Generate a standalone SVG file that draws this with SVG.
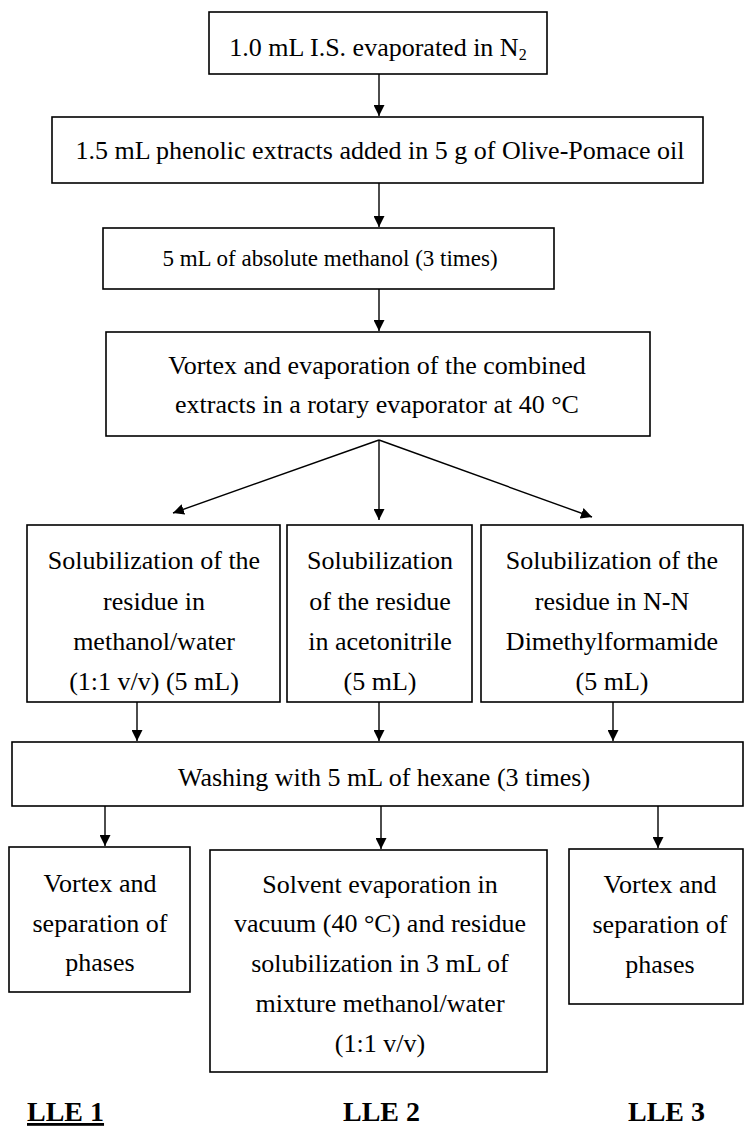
<svg xmlns="http://www.w3.org/2000/svg" width="744" height="1128" viewBox="0 0 744 1128">
<defs>
<style>
.box{fill:#fff;stroke:#000;stroke-width:1.6}
.t{font-family:"Liberation Serif","Times New Roman",serif;font-size:26px;fill:#000;text-anchor:middle}
.t23{font-size:23px}
.lab{font-family:"Liberation Serif","Times New Roman",serif;font-size:28px;font-weight:bold;fill:#000}
.c{stroke:#000;stroke-width:1.4;fill:none;marker-end:url(#ah)}
</style>
<marker id="ah" viewBox="0 0 10 10" refX="10" refY="5" markerWidth="11" markerHeight="11" markerUnits="userSpaceOnUse" orient="auto">
<path d="M0,0 L10,5 L0,10 z" fill="#000"/>
</marker>
</defs>
<rect width="744" height="1128" fill="#fff"/>
<g id="connectors">
<line class="c" x1="379" y1="74" x2="379" y2="116"/>
<line class="c" x1="379" y1="183" x2="379" y2="227"/>
<line class="c" x1="379" y1="289" x2="379" y2="331"/>
<line class="c" x1="379" y1="440" x2="173" y2="513"/>
<line class="c" x1="379" y1="440" x2="379" y2="520"/>
<line class="c" x1="379" y1="440" x2="592" y2="517"/>
<line class="c" x1="137" y1="702" x2="137" y2="741"/>
<line class="c" x1="379" y1="702" x2="379" y2="741"/>
<line class="c" x1="613" y1="702" x2="613" y2="741"/>
<line class="c" x1="105" y1="806" x2="105" y2="846"/>
<line class="c" x1="381" y1="806" x2="381" y2="849"/>
<line class="c" x1="658" y1="806" x2="658" y2="848"/>
</g>
<g id="n1"><rect class="box" x="209" y="12" width="338" height="62"/>
<text class="t" x="378" y="56">1.0 mL I.S. evaporated in N<tspan font-size="16" dy="4">2</tspan></text></g>
<g id="n2"><rect class="box" x="52" y="117" width="651" height="66"/>
<text class="t" x="380" y="159">1.5 mL phenolic extracts added in 5 g of Olive-Pomace oil</text></g>
<g id="n3"><rect class="box" x="103" y="228" width="451" height="61"/>
<text class="t t23" x="330" y="266">5 mL of absolute methanol (3 times)</text></g>
<g id="n4"><rect class="box" x="106" y="332" width="544" height="104"/>
<text class="t" x="377" y="374">Vortex and evaporation of the combined</text>
<text class="t" x="377" y="413">extracts in a rotary evaporator at 40 °C</text></g>
<g id="n5"><rect class="box" x="27" y="525" width="253" height="177"/>
<text class="t" x="154" y="569">Solubilization of the</text>
<text class="t" x="154" y="610">residue in</text>
<text class="t" x="154" y="650">methanol/water</text>
<text class="t" x="154" y="690">(1:1 v/v) (5 mL)</text></g>
<g id="n6"><rect class="box" x="287" y="525" width="185" height="177"/>
<text class="t" x="380" y="569">Solubilization</text>
<text class="t" x="380" y="610">of the residue</text>
<text class="t" x="380" y="650">in acetonitrile</text>
<text class="t" x="380" y="690">(5 mL)</text></g>
<g id="n7"><rect class="box" x="481" y="525" width="262" height="177"/>
<text class="t" x="612" y="569">Solubilization of the</text>
<text class="t" x="612" y="610">residue in N-N</text>
<text class="t" x="612" y="650">Dimethylformamide</text>
<text class="t" x="612" y="690">(5 mL)</text></g>
<g id="n8"><rect class="box" x="12" y="742" width="731" height="64"/>
<text class="t" x="384" y="786">Washing with 5 mL of hexane (3 times)</text></g>
<g id="n9"><rect class="box" x="9" y="847" width="181" height="145"/>
<text class="t" x="100" y="892">Vortex and</text>
<text class="t" x="100" y="932">separation of</text>
<text class="t" x="100" y="971">phases</text></g>
<g id="n10"><rect class="box" x="210" y="850" width="337" height="222"/>
<text class="t" x="380" y="893">Solvent evaporation in</text>
<text class="t" x="380" y="932">vacuum (40 °C) and residue</text>
<text class="t" x="380" y="972">solubilization in 3 mL of</text>
<text class="t" x="380" y="1012">mixture methanol/water</text>
<text class="t" x="380" y="1052">(1:1 v/v)</text></g>
<g id="n11"><rect class="box" x="569" y="849" width="174" height="155"/>
<text class="t" x="660" y="893">Vortex and</text>
<text class="t" x="660" y="933">separation of</text>
<text class="t" x="660" y="973">phases</text></g>
<g id="labels">
<text class="lab" x="27" y="1121" text-decoration="underline">LLE 1</text>
<text class="lab" x="343" y="1121">LLE 2</text>
<text class="lab" x="628" y="1121">LLE 3</text>
</g>
</svg>
